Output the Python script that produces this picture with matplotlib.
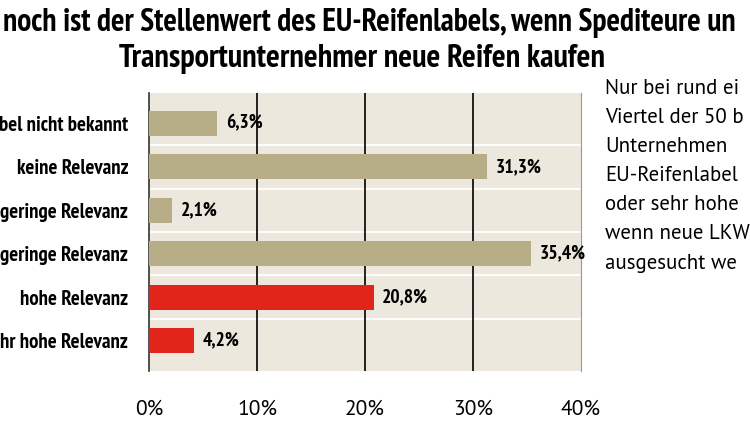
import matplotlib
matplotlib.use("Agg")
import matplotlib.pyplot as plt
import numpy as np

# the reference is a crop: texts are kept as far as they are visible there
categories = [
    "bel nicht bekannt",
    "keine Relevanz",
    "geringe Relevanz",
    "geringe Relevanz",
    "hohe Relevanz",
    "hr hohe Relevanz",
]
values = [6.3, 31.3, 2.1, 35.4, 20.8, 4.2]
value_labels = ["6,3%", "31,3%", "2,1%", "35,4%", "20,8%", "4,2%"]
highlight = [False, False, False, False, True, True]
xticks = [0, 10, 20, 30, 40]
xtick_labels = ["0%", "10%", "20%", "30%", "40%"]

title_lines = [
    "noch ist der Stellenwert des EU-Reifenlabels, wenn Spediteure un",
    "Transportunternehmer neue Reifen kaufen",
]
side_lines = [
    "Nur bei rund ei",
    "Viertel der 50 b",
    "Unternehmen",
    "EU-Reifenlabel",
    "oder sehr hohe",
    "wenn neue LKW",
    "ausgesucht we",
]

COND = ["PT Sans Narrow", "DejaVu Sans"]
REG = ["PT Sans", "DejaVu Sans"]
TAN = "#b7ad86"
RED = "#e1251b"
BG = "#ece8dd"

fig = plt.figure(figsize=(7.5, 4.22), dpi=100)
ax = fig.add_axes([149 / 750, 51 / 422, 432 / 750, 278 / 422])
ax.set_facecolor(BG)

y = np.arange(len(categories))
colors = [RED if h else TAN for h in highlight]
ax.barh(y, values, height=0.58, color=colors, zorder=3)

for yi, v, lab in zip(y, values, value_labels):
    ax.text(v + 0.8, yi, lab, va="center", ha="left", fontsize=14,
            fontweight="bold", family=COND, zorder=4)

# white separators between rows
for s in np.arange(0.5, len(categories) - 1, 1.0):
    ax.axhline(s, color="white", lw=1.3, zorder=1)

for t in xticks[1:-1]:
    ax.axvline(t, color="black", lw=1.2, zorder=2)

ax.set_xlim(0, 40)
ax.set_ylim(len(categories) - 0.3, -0.7)
ax.set_xticks(xticks)
ax.set_xticklabels(xtick_labels, family=REG, fontsize=15.5)
ax.set_yticks(y)
ax.set_yticklabels(categories, family=COND, fontsize=15, fontweight="bold")
ax.tick_params(axis="x", length=0, pad=21)
ax.tick_params(axis="y", length=0, pad=15)
for side in ["top", "bottom"]:
    ax.spines[side].set_visible(False)
ax.spines["left"].set_color("#333333")
ax.spines["left"].set_linewidth(1.2)
ax.spines["right"].set_color("#999999")
ax.spines["right"].set_linewidth(0.8)

fig.text(3 / 750, 1 - 23 / 422, title_lines[0], ha="left", va="center",
         fontsize=22.8, fontweight="bold", family=COND)
fig.text(362 / 750, 1 - 59 / 422, title_lines[1], ha="center", va="center",
         fontsize=23.3, fontweight="bold", family=COND)

for i, line in enumerate(side_lines):
    fig.text(605 / 750, 1 - (88 + 29.2 * i) / 422, line, ha="left",
             va="center", fontsize=15, family=REG)

fig.savefig("out.png", dpi=100)
